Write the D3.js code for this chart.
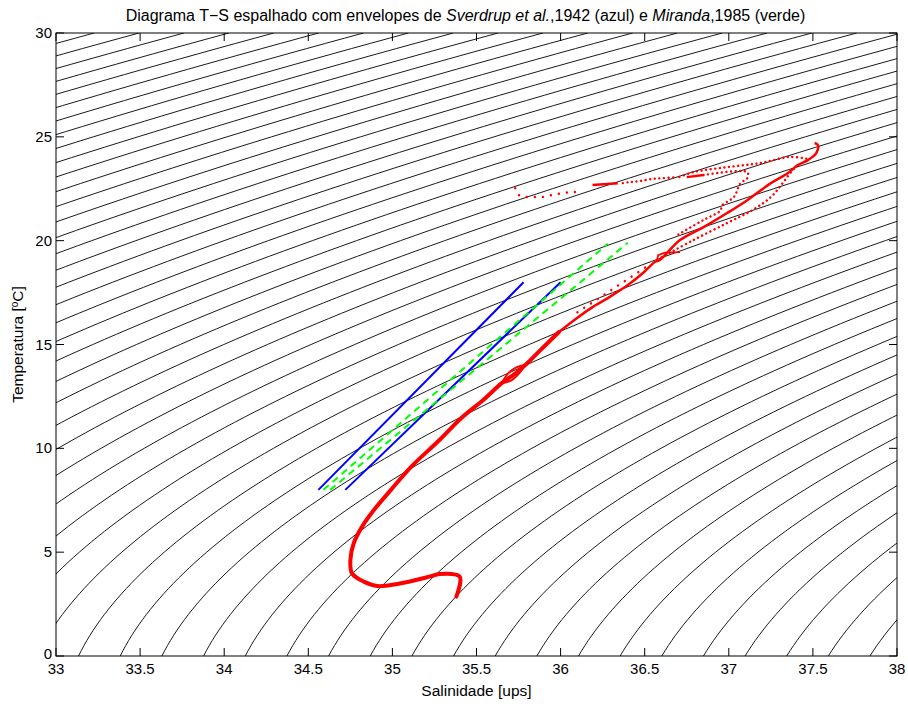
<!DOCTYPE html>
<html><head><meta charset="utf-8">
<script src="https://cdn.jsdelivr.net/npm/d3@7"></script>
<style>body{margin:0;background:#fff} text{font-family:"Liberation Sans",Arial,Helvetica,sans-serif;fill:#000}</style>
</head><body><svg id="c" width="908" height="709"></svg>
<script>
// ---------- data ----------
const xTicks = [33, 33.5, 34, 34.5, 35, 35.5, 36, 36.5, 37, 37.5, 38];
const yTicks = [0, 5, 10, 15, 20, 25, 30];
const sigmaStep = 0.2;            // isopycnal interval (kg/m3)
const sigmaMin = 18, sigmaMax = 32;

// Sverdrup et al. 1942 envelope (blue)
const sverdrupA = [[34.56, 8], [35.78, 18]];
const sverdrupB = [[34.72, 8], [36.00, 18]];
// Miranda 1985 envelope (green dashed)
const mirandaA = [[34.59, 8], [36.28, 19.85]];
const mirandaB = [[34.63, 8], [36.40, 19.9]];

// CTD profile (red) - dense deep part
const redDeep = [[35.38, 2.86], [35.40, 3.82], [35.28, 3.95], [35.22, 3.82], [35.03, 3.47], [34.91, 3.37],
  [34.83, 3.58], [34.76, 3.98], [34.75, 4.62], [34.77, 5.43], [34.82, 6.23], [34.89, 7.03], [34.99, 7.99],
  [35.11, 9.1], [35.28, 10.40], [35.41, 11.46], [35.54, 12.33], [35.65, 13.14], [35.73, 13.6],
  [35.79, 14.01], [35.88, 14.73], [35.99, 15.60]];
const redBraidA = [[35.65, 13.14], [35.69, 13.62], [35.74, 13.91], [35.79, 14.01]];
const redBraidB = [[35.65, 13.14], [35.71, 13.29], [35.76, 13.67], [35.79, 14.01]];
// upper part (thinner line)
const redUpper = [[35.99, 15.60], [36.09, 16.23], [36.19, 16.80], [36.29, 17.28], [36.40, 17.86], [36.49, 18.44],
  [36.56, 18.97], [36.59, 19.07], [36.71, 20.03], [36.85, 20.65], [36.99, 21.33], [37.11, 21.95], [37.25, 22.77],
  [37.35, 23.25], [37.41, 23.64], [37.47, 23.88], [37.52, 24.22], [37.53, 24.60], [37.51, 24.70]];
const redLoop = [[36.57, 18.97], [36.58, 19.3], [36.62, 19.42], [36.71, 19.45]];
// sparse (dotted) strands
const redDotsAbove = [[36.10, 16.55], [36.25, 17.35], [36.40, 18.15], [36.52, 18.8]];
const redDotsLow = [[36.60, 19.2], [36.79, 20.03], [36.99, 20.85], [37.14, 21.47], [37.25, 22.10], [37.32, 22.77], [37.38, 23.40], [37.42, 23.7]];
const redDotsTop = [[37.46, 23.95], [37.36, 24.03], [37.19, 23.74], [36.99, 23.54], [36.79, 23.30], [36.69, 23.01]];
const redDotsZ = [[36.85, 23.16], [37.11, 23.30], [37.11, 23.01], [37.07, 22.77], [37.03, 22.1], [36.96, 21.7], [36.95, 21.45], [36.85, 21.0], [36.70, 20.3]];
const redDotsLeft = [[35.73, 22.53], [35.75, 22.20], [35.78, 22.10], [35.84, 22.10], [35.89, 22.10], [35.95, 22.20],
  [36.01, 22.29], [36.06, 22.34], [36.12, 22.34]];
const redDenseLeft = [[36.19, 22.68], [36.34, 22.77]];
const redDotsMid = [[36.37, 22.77], [36.41, 22.82], [36.47, 22.87], [36.54, 22.97], [36.61, 23.01], [36.69, 23.06]];
const redDenseMid = [[36.75, 23.06], [36.85, 23.16]];

// ---------- layout ----------
const W = 908, H = 709;
const m = {l: 56, r: 11, t: 33, b: 53};
const svg = d3.select("#c");
const x = d3.scaleLinear().domain([33, 38]).range([m.l, W - m.r]);
const y = d3.scaleLinear().domain([0, 30]).range([H - m.b, m.t]);

svg.append("defs").append("clipPath").attr("id", "clip")
  .append("rect").attr("x", m.l).attr("y", m.t).attr("width", W - m.l - m.r).attr("height", H - m.t - m.b);

// UNESCO EOS-80 surface density
function rho(S, T) {
  const rw = 999.842594 + 6.793952e-2*T - 9.095290e-3*T*T + 1.001685e-4*T**3 - 1.120083e-6*T**4 + 6.536332e-9*T**5;
  const A = 8.24493e-1 - 4.0899e-3*T + 7.6438e-5*T*T - 8.2467e-7*T**3 + 5.3875e-9*T**4;
  const B = -5.72466e-3 + 1.0227e-4*T - 1.6546e-6*T*T;
  const C = 4.8314e-4;
  return rw + A*S + B*Math.pow(S, 1.5) + C*S*S;
}
function salForSigma(sig, T) {
  let lo = 25, hi = 45;
  for (let i = 0; i < 50; i++) {
    const mid = (lo + hi) / 2;
    if (rho(mid, T) - 1000 < sig) lo = mid; else hi = mid;
  }
  return (lo + hi) / 2;
}
const levels = d3.range(Math.round((sigmaMax - sigmaMin) / sigmaStep) + 1).map(i => sigmaMin + i * sigmaStep);
const temps = d3.range(0, 30.001, 0.25);

const line = d3.line().x(d => x(d[0])).y(d => y(d[1]));
const plot = svg.append("g").attr("clip-path", "url(#clip)");

plot.selectAll("path.iso").data(levels).join("path").attr("class", "iso")
  .attr("d", L => line(temps.map(t => [salForSigma(L, t), t])))
  .attr("fill", "none").attr("stroke", "#000").attr("stroke-width", 0.9);

// envelopes
[sverdrupA, sverdrupB].forEach(d => plot.append("path").attr("d", line(d))
  .attr("fill", "none").attr("stroke", "#0000ff").attr("stroke-width", 2));
[mirandaA, mirandaB].forEach(d => plot.append("path").attr("d", line(d))
  .attr("fill", "none").attr("stroke", "#00ff00").attr("stroke-width", 2).attr("stroke-dasharray", "7,5"));

// red profile
const red = "#ff0000";
const curve = d3.line().x(d => x(d[0])).y(d => y(d[1])).curve(d3.curveCatmullRom);
plot.append("path").attr("d", curve(redDeep)).attr("fill", "none").attr("stroke", red).attr("stroke-width", 4).attr("stroke-linejoin", "round").attr("stroke-linecap", "round");
[redBraidA, redBraidB].forEach(d => plot.append("path").attr("d", curve(d)).attr("fill", "none").attr("stroke", red).attr("stroke-width", 2));
plot.append("path").attr("d", curve(redUpper)).attr("fill", "none").attr("stroke", red).attr("stroke-width", 2.5).attr("stroke-linejoin", "round");
plot.append("path").attr("d", line(redLoop)).attr("fill", "none").attr("stroke", red).attr("stroke-width", 1.8);
[redDenseLeft, redDenseMid].forEach(d => plot.append("path").attr("d", line(d)).attr("fill", "none").attr("stroke", red).attr("stroke-width", 2.5));
[redDotsLow, redDotsTop, redDotsZ, redDotsMid].forEach(d => plot.append("path").attr("d", curve(d))
  .attr("fill", "none").attr("stroke", red).attr("stroke-width", 2.4).attr("stroke-linecap", "round").attr("stroke-dasharray", "0.1,4.5"));
[redDotsLeft, redDotsAbove].forEach(d => plot.append("path").attr("d", line(d)).attr("fill", "none").attr("stroke", red).attr("stroke-width", 2.4)
  .attr("stroke-linecap", "round").attr("stroke-dasharray", "0.1,8"));

// ---------- axes ----------
const tl = 8;
const ax = svg.append("g");
ax.append("rect").attr("x", m.l).attr("y", m.t).attr("width", W - m.l - m.r).attr("height", H - m.t - m.b)
  .attr("fill", "none").attr("stroke", "#000").attr("stroke-width", 1);
xTicks.forEach(v => {
  ax.append("line").attr("x1", x(v)).attr("x2", x(v)).attr("y1", y(0)).attr("y2", y(0) - tl).attr("stroke", "#000");
  ax.append("line").attr("x1", x(v)).attr("x2", x(v)).attr("y1", y(30)).attr("y2", y(30) + tl).attr("stroke", "#000");
  ax.append("text").attr("x", x(v)).attr("y", y(0) + 18).attr("text-anchor", "middle").attr("font-size", 15).text(v);
});
yTicks.forEach(v => {
  ax.append("line").attr("x1", x(33)).attr("x2", x(33) + tl).attr("y1", y(v)).attr("y2", y(v)).attr("stroke", "#000");
  ax.append("line").attr("x1", x(38)).attr("x2", x(38) - tl).attr("y1", y(v)).attr("y2", y(v)).attr("stroke", "#000");
  ax.append("text").attr("x", m.l - 4).attr("y", y(v) + (v === 0 ? 3 : 5)).attr("text-anchor", "end").attr("font-size", 15).text(v);
});
svg.append("text").attr("x", (m.l + W - m.r) / 2).attr("y", 696).attr("text-anchor", "middle").attr("font-size", 15.5).text("Salinidade [ups]");
const yl = svg.append("text").attr("transform", `translate(23,${(m.t + H - m.b) / 2}) rotate(-90)`).attr("text-anchor", "middle").attr("font-size", 15.5);
yl.append("tspan").text("Temperatura [");
yl.append("tspan").attr("baseline-shift", "super").attr("font-size", 10).text("o");
yl.append("tspan").text("C]");

const tt = svg.append("text").attr("x", (m.l + W - m.r) / 2 - 11).attr("y", 21).attr("text-anchor", "middle").attr("font-size", 16);
tt.append("tspan").text("Diagrama T\u2212S espalhado com envelopes de ");
tt.append("tspan").attr("font-style", "italic").text("Sverdrup et al.");
tt.append("tspan").text(",1942 (azul) e ");
tt.append("tspan").attr("font-style", "italic").text("Miranda");
tt.append("tspan").text(",1985 (verde)");
</script></body></html>
